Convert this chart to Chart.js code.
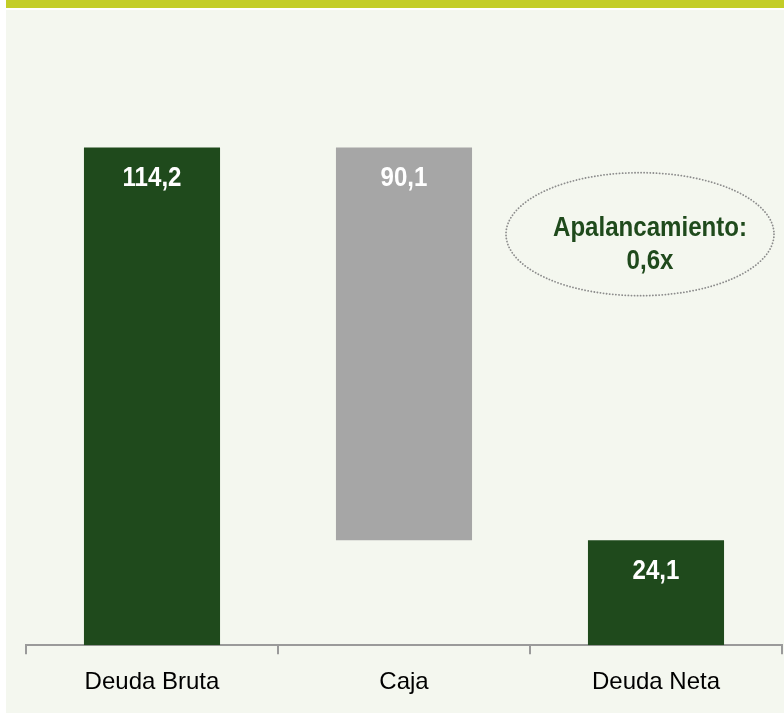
<!DOCTYPE html>
<html>
<head>
<meta charset="utf-8">
<script src="https://cdn.jsdelivr.net/npm/chart.js@4.4.1/dist/chart.umd.min.js"></script>
<style>
  html, body { margin: 0; padding: 0; background: #ffffff; }
  body { width: 784px; height: 714px; position: relative; overflow: hidden; }
  #band { position: absolute; left: 6px; top: 0; width: 778px; height: 8px; background: #c3cd28; }
  #panel { position: absolute; left: 6px; top: 10px; width: 778px; height: 703px; background: #f4f7ef; }
  #wrap { position: absolute; left: 0; top: 0; width: 784px; height: 714px; }
</style>
</head>
<body>
<div id="band"></div>
<div id="panel"></div>
<div id="wrap"><canvas id="c" width="784" height="714"></canvas></div>
<script>
const categories = ['Deuda Bruta', 'Caja', 'Deuda Neta'];
const deudaBruta = 114.2;
const caja = 90.1;
const deudaNeta = 24.1;
const labelValues = [deudaBruta, caja, deudaNeta];
const barColors = ['#1f4a1c', '#a6a6a6', '#1f4a1c'];
const annotationLines = ['Apalancamiento:', '0,6x'];

const sans = "'Liberation Sans', Arial, sans-serif";
const condense = 0.86;

const fmt = v => v.toFixed(1).replace('.', ',');

function narrowText(ctx, text, x, y) {
  ctx.save();
  ctx.translate(x, y);
  ctx.scale(condense, 1);
  ctx.fillText(text, 0, 0);
  ctx.restore();
}

const valueLabels = {
  id: 'valueLabels',
  afterDatasetsDraw(chart) {
    const ctx = chart.ctx;
    const meta = chart.getDatasetMeta(0);
    ctx.save();
    ctx.font = 'bold 28px ' + sans;
    ctx.fillStyle = '#ffffff';
    ctx.textAlign = 'center';
    ctx.textBaseline = 'alphabetic';
    meta.data.forEach((el, i) => {
      narrowText(ctx, fmt(labelValues[i]), el.x, el.y + 39);
    });
    ctx.restore();
  }
};

const ellipseNote = {
  id: 'ellipseNote',
  afterDraw(chart) {
    const ctx = chart.ctx;
    const xs = chart.scales.x, ys = chart.scales.y;
    const cx = xs.getPixelForValue(2) - 16;
    const cy = ys.getPixelForValue(94.3);
    ctx.save();
    ctx.beginPath();
    ctx.ellipse(cx, cy, 134, 61.5, 0, 0, Math.PI * 2);
    ctx.setLineDash([0.1, 3]);
    ctx.lineCap = 'round';
    ctx.lineWidth = 1.8;
    ctx.strokeStyle = '#8c8c8c';
    ctx.stroke();
    ctx.setLineDash([]);
    ctx.font = 'bold 28px ' + sans;
    ctx.fillStyle = '#1f4a1c';
    ctx.textAlign = 'center';
    ctx.textBaseline = 'alphabetic';
    narrowText(ctx, annotationLines[0], cx + 10, cy + 1.5);
    narrowText(ctx, annotationLines[1], cx + 10, cy + 34.5);
    ctx.restore();
  }
};

new Chart(document.getElementById('c'), {
  type: 'bar',
  data: {
    labels: categories,
    datasets: [{
      data: [[0, deudaBruta], [deudaNeta, deudaBruta], [0, deudaNeta]],
      backgroundColor: barColors,
      borderWidth: 0,
      barPercentage: 0.6,
      categoryPercentage: 0.9
    }]
  },
  options: {
    responsive: false,
    animation: false,
    layout: { padding: { left: 26, right: 2, top: 35, bottom: 3 } },
    plugins: { legend: { display: false }, tooltip: { enabled: false } },
    scales: {
      x: {
        grid: {
          offset: true,
          drawOnChartArea: false,
          drawTicks: true,
          tickLength: 9,
          color: '#9a9a9a',
          lineWidth: 2
        },
        border: { display: true, color: '#9a9a9a', width: 2 },
        ticks: {
          color: '#000000',
          font: { family: sans, size: 24 },
          padding: 14
        }
      },
      y: {
        display: false,
        min: 0,
        max: 140
      }
    }
  },
  plugins: [valueLabels, ellipseNote]
});
</script>
</body>
</html>
